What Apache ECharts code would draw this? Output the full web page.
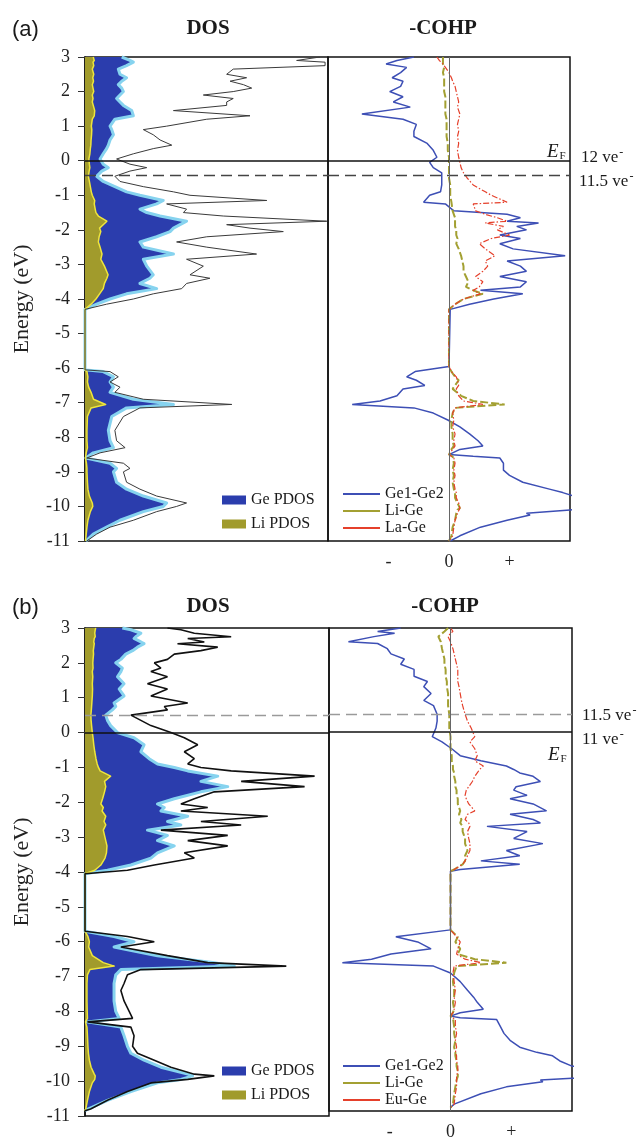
<!DOCTYPE html>
<html>
<head>
<meta charset="utf-8">
<script src="https://cdn.jsdelivr.net/npm/echarts@6/dist/echarts.min.js"></script>
<style>
  html, body { margin: 0; padding: 0; background: #fff; }
  #chart { width: 644px; height: 1141px; }
</style>
</head>
<body>
<div id="chart"></div>
<script>
// ---- panel (a): DOS, energies in eV, DOS in arbitrary units (0..10)
const eDosA = [3.0, 2.9, 2.85, 2.75, 2.65, 2.5, 2.4, 2.3, 2.2, 2.1,
  2.0, 1.9, 1.8, 1.7, 1.6, 1.45, 1.3, 1.2, 1.0, 0.9,
  0.75, 0.6, 0.45, 0.35, 0.2, 0.05, -0.1, -0.2, -0.3, -0.45,
  -0.6, -0.75, -0.9, -1.0, -1.15, -1.25, -1.4, -1.5, -1.6, -1.75,
  -1.85, -1.95, -2.05, -2.2, -2.35, -2.5, -2.7, -2.85, -3.05, -3.3,
  -3.4, -3.55, -3.7, -3.85, -4.0, -4.15, -4.3, -6.05, -6.1, -6.25,
  -6.4, -6.55, -6.7, -6.9, -7.05, -7.15, -7.4, -7.8, -8.1, -8.3,
  -8.45, -8.6, -8.75, -8.9, -9.0, -9.3, -9.5, -9.7, -9.9, -10.0,
  -10.15, -10.4, -10.6, -10.8, -11.0]
const totalDosA = [9.67, 8.71, 9.88, 9.88, 6.10, 5.83, 6.65, 5.97, 6.52, 6.86,
  6.10, 4.87, 6.10, 5.83, 5.83, 3.64, 6.79, 5.01, 3.36, 2.40,
  2.81, 3.09, 3.57, 2.81, 1.99, 1.30, 1.85, 2.54, 1.85, 1.23,
  1.44, 2.40, 3.64, 4.32, 7.48, 3.36, 4.18, 4.05, 5.69, 9.95,
  5.83, 6.79, 8.16, 5.01, 3.77, 5.01, 7.06, 4.18, 4.87, 4.32,
  5.14, 4.18, 3.98, 2.81, 1.99, 0.89, 0, 0, 1.03, 1.37,
  1.03, 1.44, 1.23, 2.40, 6.04, 2.26, 1.58, 1.23, 1.30, 1.65,
  0.62, 0.07, 1.58, 1.85, 1.58, 1.71, 2.26, 2.95, 4.18, 3.77,
  2.95, 1.99, 1.03, 0.48, 0.07]
const geDosA = [1.51, 1.85, 1.99, 1.71, 1.37, 1.44, 1.71, 1.51, 1.37, 1.51,
  1.58, 1.44, 1.30, 1.44, 1.58, 1.92, 1.99, 1.23, 1.03, 1.10,
  1.17, 1.03, 0.96, 0.89, 0.75, 0.62, 0.75, 0.96, 0.69, 0.48,
  0.75, 1.23, 1.71, 2.26, 3.22, 2.95, 2.26, 2.54, 3.09, 4.18,
  3.91, 3.64, 3.50, 2.95, 2.26, 2.40, 3.64, 2.40, 2.54, 2.81,
  2.67, 2.26, 2.95, 1.71, 1.03, 0.48, 0, 0, 0.75, 1.17,
  1.03, 1.17, 1.03, 1.99, 3.64, 1.71, 1.10, 0.96, 1.03, 1.17,
  0.34, 0.04, 1.03, 1.30, 1.17, 1.30, 1.71, 2.40, 3.36, 3.22,
  2.40, 1.44, 0.89, 0.34, 0.04]
const liDosA = [0.34, 0.38, 0.33, 0.36, 0.30, 0.36, 0.32, 0.35, 0.30, 0.33,
  0.36, 0.30, 0.33, 0.30, 0.34, 0.40, 0.38, 0.30, 0.26, 0.28,
  0.27, 0.25, 0.24, 0.22, 0.20, 0.16, 0.18, 0.20, 0.17, 0.14,
  0.18, 0.22, 0.26, 0.30, 0.40, 0.38, 0.42, 0.45, 0.55, 0.90,
  0.75, 0.60, 0.65, 0.58, 0.55, 0.62, 0.70, 0.65, 0.80, 0.95,
  0.90, 0.80, 0.75, 0.60, 0.45, 0.25, 0, 0, 0.08, 0.12,
  0.10, 0.15, 0.25, 0.35, 0.85, 0.25, 0.10, 0.08, 0.08, 0.10,
  0.05, 0.02, 0.06, 0.08, 0.08, 0.10, 0.12, 0.18, 0.30, 0.32,
  0.22, 0.12, 0.08, 0.05, 0.02]

// ---- panel (a): -COHP (relative units, -1..1)
const eCohpA = [3.0, 2.9, 2.8, 2.7, 2.55, 2.4, 2.3, 2.15, 2.0, 1.85,
  1.7, 1.55, 1.35, 1.2, 1.05, 0.85, 0.7, 0.5, 0.3, 0.1,
  -0.05, -0.2, -0.35, -0.5, -0.7, -0.9, -1.0, -1.2, -1.25, -1.45,
  -1.55, -1.65, -1.75, -1.8, -1.9, -2.0, -2.15, -2.25, -2.4, -2.55,
  -2.75, -2.9, -3.05, -3.2, -3.35, -3.5, -3.65, -3.75, -3.85, -4.0,
  -4.15, -4.3, -5.95, -6.1, -6.25, -6.35, -6.5, -6.6, -6.8, -6.95,
  -7.05, -7.15, -7.3, -7.5, -7.7, -7.9, -8.1, -8.25, -8.35, -8.5,
  -8.55, -8.6, -8.75, -8.95, -9.1, -9.3, -9.5, -9.6, -9.75, -9.9,
  -10.05, -10.1, -10.2, -10.25, -10.4, -10.6, -10.85, -11.0]
const geGeA = [-0.29, -0.43, -0.52, -0.35, -0.40, -0.47, -0.38, -0.40, -0.49, -0.38,
  -0.46, -0.32, -0.72, -0.38, -0.27, -0.29, -0.29, -0.18, -0.13, -0.10,
  -0.16, -0.13, -0.06, -0.06, -0.06, -0.07, -0.16, -0.21, -0.03, 0.04,
  0.48, 0.59, 0.48, 0.74, 0.56, 0.64, 0.42, 0.59, 0.42, 0.53,
  0.96, 0.48, 0.59, 0.64, 0.42, 0.64, 0.59, 0.26, 0.61, 0.37,
  0.17, 0.01, 0, -0.28, -0.35, -0.27, -0.20, -0.38, -0.43, -0.57,
  -0.80, -0.29, -0.13, -0.01, 0.09, 0.17, 0.24, 0.28, 0.09, 0,
  0.20, 0.42, 0.45, 0.45, 0.50, 0.61, 0.83, 0.94, 1.08, 1.4,
  1.3, 1.0, 0.64, 0.67, 0.48, 0.26, 0.09, 0.01]
const liGeA = [-0.05, -0.05, -0.05, -0.04, -0.05, -0.04, -0.04, -0.04, -0.04, -0.03,
  -0.03, -0.03, -0.03, -0.02, -0.02, -0.02, -0.02, -0.01, -0.01, 0,
  0, 0, 0, 0, 0.01, 0.01, 0.01, 0.02, 0.02, 0.03,
  0.04, 0.05, 0.05, 0.06, 0.05, 0.06, 0.06, 0.07, 0.06, 0.08,
  0.10, 0.11, 0.12, 0.12, 0.14, 0.16, 0.14, 0.20, 0.28, 0.12,
  0.05, 0, 0, 0.02, 0.05, 0.08, 0.05, 0.03, 0.10, 0.20,
  0.46, 0.05, 0.03, 0.02, 0.02, 0.03, 0.03, 0.04, 0.02, 0,
  0.03, 0.04, 0.04, 0.03, 0.04, 0.03, 0.04, 0.05, 0.05, 0.07,
  0.09, 0.07, 0.06, 0.06, 0.05, 0.03, 0.02, 0]
const laGeA = [-0.10, -0.08, -0.05, -0.03, 0.0, 0.02, 0.03, 0.05, 0.06, 0.07,
  0.08, 0.07, 0.09, 0.08, 0.07, 0.08, 0.07, 0.08, 0.07, 0.08,
  0.09, 0.10, 0.12, 0.15, 0.20, 0.30, 0.35, 0.48, 0.20, 0.22,
  0.30, 0.40, 0.48, 0.30, 0.45, 0.40, 0.50, 0.35, 0.25, 0.30,
  0.38, 0.30, 0.32, 0.28, 0.22, 0.28, 0.25, 0.20, 0.26, 0.12,
  0.05, 0, 0, 0.02, 0.06, 0.07, 0.08, 0.06, 0.08, 0.12,
  0.28, 0.05, 0.03, 0.04, 0.03, 0.05, 0.04, 0.05, 0.03, 0,
  0.02, 0.04, 0.05, 0.04, 0.05, 0.04, 0.05, 0.06, 0.06, 0.08,
  0.09, 0.08, 0.07, 0.06, 0.05, 0.04, 0.03, 0]

// ---- panel (b): DOS
const eDosB = [3.0, 2.95, 2.85, 2.75, 2.7, 2.6, 2.55, 2.45, 2.35, 2.25,
  2.1, 2.0, 1.85, 1.75, 1.6, 1.4, 1.25, 1.05, 0.85, 0.75,
  0.65, 0.5, 0.35, 0.2, 0.0, -0.15, -0.35, -0.55, -0.75, -0.9,
  -1.0, -1.1, -1.25, -1.4, -1.55, -1.7, -1.9, -2.05, -2.15, -2.25,
  -2.4, -2.55, -2.65, -2.8, -2.95, -3.1, -3.25, -3.45, -3.6, -3.8,
  -3.95, -4.05, -5.7, -5.85, -6.0, -6.15, -6.4, -6.6, -6.7, -6.8,
  -6.95, -7.2, -7.4, -7.7, -8.0, -8.2, -8.3, -8.45, -8.7, -9.0,
  -9.2, -9.4, -9.6, -9.8, -9.85, -9.95, -10.05, -10.3, -10.55, -10.8,
  -10.85]
const totalDosB = [3.38, 3.93, 4.48, 5.99, 4.21, 4.89, 3.79, 5.44, 4.75, 3.66,
  3.38, 2.84, 3.11, 2.70, 3.38, 2.56, 3.38, 2.70, 4.21, 3.25,
  3.38, 1.88, 2.29, 2.70, 3.52, 4.07, 4.62, 4.07, 4.48, 4.21,
  4.75, 5.99, 9.41, 6.40, 9.00, 5.30, 4.48, 3.93, 5.03, 3.93,
  7.49, 4.75, 6.40, 3.11, 5.85, 4.21, 5.85, 4.07, 4.48, 2.84,
  1.74, 0, 0, 1.74, 2.84, 1.47, 3.38, 5.03, 8.25, 2.29,
  1.74, 1.60, 1.47, 1.60, 1.81, 1.95, 0.10, 1.88, 2.01, 1.95,
  2.15, 2.84, 3.52, 4.48, 5.30, 4.21, 2.70, 1.74, 0.92, 0.23,
  0]
const geDosB = [1.53, 1.88, 2.29, 2.08, 2.01, 2.29, 2.42, 2.15, 1.95, 1.67,
  1.47, 1.26, 1.53, 1.47, 1.33, 1.60, 1.40, 1.60, 1.19, 1.26,
  1.12, 0.85, 0.92, 1.05, 1.33, 2.01, 2.42, 2.29, 2.63, 2.97,
  3.66, 4.21, 5.44, 4.75, 5.85, 4.75, 3.66, 2.97, 3.25, 3.11,
  4.21, 3.38, 3.93, 2.56, 3.38, 2.97, 3.66, 2.97, 2.70, 1.88,
  0.92, 0, 0, 1.19, 2.01, 1.19, 2.97, 5.30, 6.12, 1.47,
  1.26, 1.19, 1.19, 1.19, 1.26, 1.40, 0.07, 1.47, 1.60, 1.74,
  1.88, 2.42, 3.11, 4.21, 4.41, 3.93, 2.97, 1.88, 0.92, 0.12,
  0]
const liDosB = [0.44, 0.42, 0.40, 0.42, 0.38, 0.36, 0.38, 0.36, 0.34, 0.35,
  0.33, 0.32, 0.33, 0.30, 0.32, 0.30, 0.31, 0.30, 0.28, 0.27,
  0.26, 0.24, 0.25, 0.27, 0.30, 0.33, 0.36, 0.40, 0.45, 0.50,
  0.55, 0.62, 1.05, 0.80, 0.85, 0.80, 0.72, 0.65, 0.75, 0.70,
  0.85, 0.78, 0.85, 0.75, 0.80, 0.85, 0.90, 0.88, 0.82, 0.65,
  0.40, 0, 0, 0.12, 0.18, 0.15, 0.30, 0.75, 1.20, 0.20,
  0.10, 0.08, 0.08, 0.08, 0.09, 0.10, 0.02, 0.08, 0.10, 0.12,
  0.14, 0.18, 0.25, 0.38, 0.42, 0.40, 0.30, 0.18, 0.10, 0.03,
  0]

// ---- panel (b): -COHP
const eCohpB = [3.0, 2.9, 2.85, 2.75, 2.6, 2.55, 2.4, 2.25, 2.1, 1.95,
  1.8, 1.6, 1.45, 1.3, 1.1, 0.9, 0.75, 0.5, 0.3, 0.1,
  -0.15, -0.3, -0.5, -0.7, -0.85, -1.0, -1.1, -1.2, -1.3, -1.45,
  -1.6, -1.7, -1.85, -1.95, -2.1, -2.3, -2.4, -2.55, -2.65, -2.75,
  -2.9, -3.1, -3.25, -3.45, -3.6, -3.75, -3.85, -4.0, -4.05, -5.75,
  -5.95, -6.1, -6.3, -6.45, -6.6, -6.7, -6.8, -7.0, -7.25, -7.5,
  -7.7, -7.85, -8.05, -8.15, -8.25, -8.3, -8.35, -8.55, -8.75, -8.95,
  -9.15, -9.3, -9.4, -9.55, -9.7, -9.85, -10.0, -10.05, -10.1, -10.15,
  -10.3, -10.5, -10.8, -10.9]
const geGeB = [-0.41, -0.60, -0.46, -0.63, -0.84, -0.60, -0.52, -0.49, -0.38, -0.41,
  -0.30, -0.30, -0.19, -0.22, -0.16, -0.22, -0.14, -0.11, -0.11, -0.12,
  -0.15, -0.07, 0.01, 0.08, 0.25, 0.46, 0.52, 0.57, 0.68, 0.74,
  0.54, 0.52, 0.63, 0.49, 0.68, 0.79, 0.49, 0.68, 0.74, 0.30,
  0.63, 0.52, 0.76, 0.46, 0.57, 0.25, 0.57, 0.08, 0, 0,
  -0.45, -0.27, -0.16, -0.49, -0.65, -0.89, -0.14, 0, 0.08, 0.14,
  0.19, 0.22, 0.27, 0.08, 0, 0.08, 0.38, 0.41, 0.44, 0.49,
  0.57, 0.71, 0.84, 0.90, 1.0, 1.4, 1.4, 1.0, 0.74, 0.76,
  0.46, 0.25, 0.03, 0]
const liGeB = [-0.02, -0.05, -0.06, -0.10, -0.08, -0.08, -0.07, -0.06, -0.05, -0.05,
  -0.04, -0.04, -0.03, -0.03, -0.02, -0.02, -0.02, -0.01, -0.01, -0.01,
  0, 0, 0, 0.01, 0.01, 0.02, 0.02, 0.03, 0.03, 0.04,
  0.04, 0.05, 0.05, 0.06, 0.06, 0.08, 0.07, 0.09, 0.08, 0.10,
  0.10, 0.12, 0.12, 0.14, 0.12, 0.12, 0.10, 0.03, 0, 0,
  0.06, 0.04, 0.08, 0.06, 0.20, 0.46, 0.05, 0.03, 0.02, 0.03,
  0.03, 0.02, 0.03, 0.02, 0, 0.02, 0.03, 0.03, 0.03, 0.04,
  0.03, 0.04, 0.04, 0.05, 0.05, 0.06, 0.06, 0.05, 0.05, 0.04,
  0.04, 0.03, 0.02, 0]
const euGeB = [0.0, 0.02, 0.0, -0.02, 0.0, 0.01, 0.02, 0.03, 0.04, 0.05,
  0.06, 0.06, 0.06, 0.07, 0.08, 0.09, 0.10, 0.12, 0.14, 0.17,
  0.20, 0.16, 0.20, 0.22, 0.20, 0.27, 0.24, 0.22, 0.20, 0.18,
  0.15, 0.13, 0.12, 0.13, 0.15, 0.20, 0.14, 0.12, 0.15, 0.16,
  0.14, 0.15, 0.16, 0.16, 0.14, 0.12, 0.10, 0.03, 0, 0,
  0.05, 0.08, 0.06, 0.05, 0.12, 0.25, 0.03, 0.02, 0.03, 0.04,
  0.03, 0.04, 0.03, 0.02, 0, 0.02, 0.04, 0.04, 0.05, 0.04,
  0.05, 0.04, 0.05, 0.05, 0.06, 0.06, 0.05, 0.06, 0.05, 0.05,
  0.05, 0.04, 0.03, 0]

const yTicks = [-11, 3]           // energy range
const dashedA = -0.43             // 11.5 ve- level, panel (a)
const dashedB = 0.5               // 11.5 ve- level, panel (b)

const serif = "'Liberation Serif', 'Times New Roman', serif"
const sans = "'Liberation Sans', Arial, sans-serif"
const C = {
  ge: '#2b3dad', geEdge: '#86d3ef',
  li: '#a19b2c', liEdge: '#eee53c',
  gege: '#3d4fb5', lige: '#a3a032', lage: '#e5402b'
}

const pts = (xs, ys) => xs.map((x, i) => [x, ys[i]])

// filled PDOS drawn as polygon against the energy axis (x = 0)
function areaSeries(name, values, energies, axis, fill, edge, edgeWidth) {
  return {
    type: 'custom', name: name, xAxisIndex: axis, yAxisIndex: axis,
    itemStyle: { color: fill }, silent: true, animation: false,
    data: [[0, 0]],
    renderItem: (params, api) => {
      const p = energies.map((e, i) => api.coord([values[i], e]))
      const base = [api.coord([0, energies[energies.length - 1]]), api.coord([0, energies[0]])]
      return {
        type: 'group', children: [
          { type: 'polygon', shape: { points: p.concat(base) }, style: { fill: fill, stroke: 'none' } },
          { type: 'polyline', shape: { points: p }, style: { fill: 'none', stroke: edge, lineWidth: edgeWidth, lineJoin: 'round' } }
        ]
      }
    }
  }
}

function hLines(dashY, dashColor, withZeroX) {
  const d = [
    { yAxis: 0, lineStyle: { color: '#111', width: 1.5, type: 'solid' } },
    { yAxis: dashY, lineStyle: { color: dashColor, width: 1.3, type: [11, 6] } }
  ]
  if (withZeroX) d.push({ xAxis: 0, lineStyle: { color: '#666', width: 1, type: 'solid' } })
  return { silent: true, symbol: 'none', label: { show: false }, animation: false, data: d }
}

function lineSeries(name, values, energies, axis, style, mark) {
  const s = {
    type: 'line', name: name, xAxisIndex: axis, yAxisIndex: axis,
    data: pts(values, energies), symbol: 'none', showSymbol: false,
    silent: true, animation: false, lineStyle: style,
    itemStyle: { color: style.color }
  }
  if (mark) s.markLine = mark
  return s
}

const grids = [
  { left: 85, top: 57, width: 243, height: 484 },
  { left: 328, top: 57, width: 242, height: 484 },
  { left: 85, top: 628, width: 244, height: 488 },
  { left: 329, top: 628, width: 243, height: 488 }
].map(g => Object.assign(g, { show: true, borderColor: '#111', borderWidth: 1.5, backgroundColor: 'transparent' }))

const dosX = i => ({ gridIndex: i, type: 'value', min: 0, max: 10, show: false })
const cohpX = i => ({
  gridIndex: i, type: 'value', min: -1, max: 1, interval: 0.5,
  axisLine: { show: false }, axisTick: { show: false }, splitLine: { show: false },
  axisLabel: {
    margin: 12, fontFamily: serif, fontSize: 18, color: '#222',
    formatter: v => (v === -0.5 ? '-' : v === 0 ? '0' : v === 0.5 ? '+' : '')
  }
})
const dosY = i => ({
  gridIndex: i, type: 'value', min: yTicks[0], max: yTicks[1], interval: 1,
  name: 'Energy (eV)', nameLocation: 'middle', nameGap: 52,
  nameTextStyle: { fontFamily: serif, fontSize: 22, color: '#222' },
  axisLine: { show: true, lineStyle: { color: '#111', width: 1.5 } },
  axisTick: { show: true, inside: false, length: 7, lineStyle: { color: '#333' } },
  axisLabel: { margin: 15, fontFamily: serif, fontSize: 18, color: '#222' },
  splitLine: { show: false }
})
const cohpY = i => ({ gridIndex: i, type: 'value', min: yTicks[0], max: yTicks[1], show: false })

const txt = (x, y, text, font, align, extra) => ({
  type: 'text', x: x, y: y, silent: true,
  style: Object.assign({ text: text, font: font, fill: '#1a1a1a', align: align || 'left', verticalAlign: 'middle' }, extra || {})
})
const supRich = {
  n: { fontFamily: serif, fontSize: 17, color: '#1a1a1a' },
  s: { fontFamily: serif, fontSize: 12, color: '#1a1a1a', padding: [0, 0, 10, 1] }
}
const efRich = {
  e: { fontFamily: serif, fontSize: 19, fontStyle: 'italic', color: '#1a1a1a' },
  f: { fontFamily: serif, fontSize: 11, color: '#1a1a1a', padding: [9, 0, 0, 1] }
}

const legendText = { fontFamily: serif, fontSize: 16, color: '#1a1a1a' }
const dosLegend = top => ({
  data: ['Ge PDOS', 'Li PDOS'], left: 217, top: top, orient: 'vertical',
  icon: 'rect', itemWidth: 24, itemHeight: 9, itemGap: 8, selectedMode: false,
  textStyle: legendText
})
const cohpLegend = (top, third) => ({
  data: ['Ge1-Ge2', 'Li-Ge', third], left: 338, top: top, orient: 'vertical',
  icon: 'rect', itemWidth: 37, itemHeight: 2, itemGap: 1, selectedMode: false,
  textStyle: legendText
})

const chart = echarts.init(document.getElementById('chart'))
chart.setOption({
  animation: false,
  backgroundColor: '#fff',
  grid: grids,
  xAxis: [dosX(0), cohpX(1), dosX(2), cohpX(3)],
  yAxis: [dosY(0), cohpY(1), dosY(2), cohpY(3)],
  legend: [dosLegend(487), cohpLegend(481, 'La-Ge'), dosLegend(1058), cohpLegend(1053, 'Eu-Ge')],
  series: [
    areaSeries('Ge PDOS', geDosA, eDosA, 0, C.ge, C.geEdge, 3),
    areaSeries('Li PDOS', liDosA, eDosA, 0, C.li, C.liEdge, 1.5),
    lineSeries('Total DOS', totalDosA, eDosA, 0, { color: '#3a3a3a', width: 1 }, hLines(dashedA, '#444', false)),
    lineSeries('Ge1-Ge2', geGeA, eCohpA, 1, { color: C.gege, width: 1.5 }, hLines(dashedA, '#444', true)),
    lineSeries('Li-Ge', liGeA, eCohpA, 1, { color: C.lige, width: 2, type: [8, 3] }),
    lineSeries('La-Ge', laGeA, eCohpA, 1, { color: C.lage, width: 1.2, type: [6, 2, 1.5, 2] }),

    areaSeries('Ge PDOS', geDosB, eDosB, 2, C.ge, C.geEdge, 3),
    areaSeries('Li PDOS', liDosB, eDosB, 2, C.li, C.liEdge, 1.5),
    lineSeries('Total DOS', totalDosB, eDosB, 2, { color: '#111', width: 1.6 }, hLines(dashedB, '#9a9a9a', false)),
    lineSeries('Ge1-Ge2', geGeB, eCohpB, 3, { color: C.gege, width: 1.5 }, hLines(dashedB, '#9a9a9a', true)),
    lineSeries('Li-Ge', liGeB, eCohpB, 3, { color: C.lige, width: 2, type: [8, 3] }),
    lineSeries('Eu-Ge', euGeB, eCohpB, 3, { color: C.lage, width: 1.2, type: [6, 2, 1.5, 2] })
  ],
  graphic: [
    txt(12, 30, '(a)', '22px ' + sans),
    txt(208, 29, 'DOS', 'bold 21px ' + serif, 'center'),
    txt(443, 29, '-COHP', 'bold 21px ' + serif, 'center'),
    txt(547, 152, '{e|E}{f|F}', '19px ' + serif, 'left', { rich: efRich }),
    txt(581, 158, '{n|12 ve}{s|-}', '17px ' + serif, 'left', { rich: supRich }),
    txt(579, 182, '{n|11.5 ve}{s|-}', '17px ' + serif, 'left', { rich: supRich }),

    txt(12, 608, '(b)', '22px ' + sans),
    txt(208, 607, 'DOS', 'bold 21px ' + serif, 'center'),
    txt(445, 607, '-COHP', 'bold 21px ' + serif, 'center'),
    txt(582, 716, '{n|11.5 ve}{s|-}', '17px ' + serif, 'left', { rich: supRich }),
    txt(582, 740, '{n|11 ve}{s|-}', '17px ' + serif, 'left', { rich: supRich }),
    txt(548, 755, '{e|E}{f|F}', '19px ' + serif, 'left', { rich: efRich })
  ]
})
</script>
</body>
</html>
